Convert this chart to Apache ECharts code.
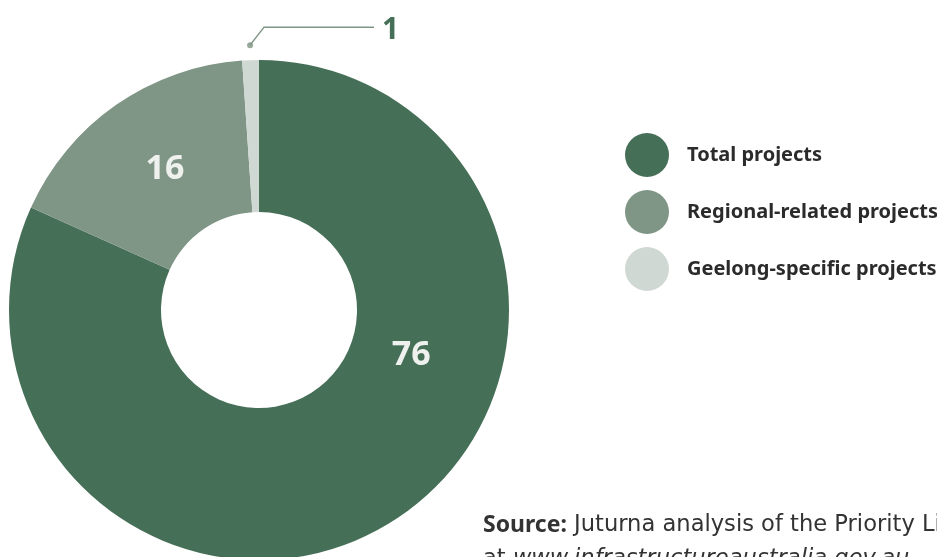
<!DOCTYPE html>
<html><head><meta charset="utf-8">
<script src="https://cdn.jsdelivr.net/npm/echarts@6/dist/echarts.min.js"></script>
<style>html,body{margin:0;padding:0;background:#fff}#c{width:937px;height:557px}</style>
</head><body><div id="c"></div>
<script>
const categories = ['Total projects', 'Regional-related projects', 'Geelong-specific projects'];
const values = [76, 16, 1];
const colors = ['#466f57', '#7f9585', '#d0d8d4'];
const sourceLine1 = 'Juturna analysis of the Priority List, available';
const sourceLine2 = 'www.infrastructureaustralia.gov.au';

const total = values.reduce((a, b) => a + b, 0);
const F = "'Noto Sans', sans-serif";
const FR = "'DejaVu Sans', sans-serif";
const chart = echarts.init(document.getElementById('c'));

const mainData = categories.map((n, i) => ({
  name: n, value: values[i], itemStyle: { color: colors[i] },
  label: { show: i < 2 }
}));
const helperData = categories.map((n, i) => ({
  name: n, value: values[i],
  label: { show: i === 2 }, labelLine: { show: i === 2 }
}));

const srcRich = {
  b: { fontFamily: F, fontSize: 23, fontWeight: 'bold', fill: '#333' },
  r: { fontFamily: FR, fontSize: 22.6, fill: '#333' },
  i: { fontFamily: FR, fontSize: 22.6, fontStyle: 'italic', fill: '#333' }
};

chart.setOption({
  animation: false,
  graphic: [{
    type: 'text', x: 483, y: 525, silent: true,
    style: { text: '{b|Source:}{r| ' + sourceLine1 + '}', rich: srcRich, verticalAlign: 'middle', align: 'left',
      fontFamily: FR, fontSize: 22.6, fill: '#333' }
  }, {
    type: 'text', x: 483, y: 559, silent: true,
    style: { text: '{r|at }{i|' + sourceLine2 + '}', rich: srcRich, verticalAlign: 'middle', align: 'left',
      fontFamily: FR, fontSize: 22.6, fill: '#333' }
  }],
  legend: {
    orient: 'vertical', left: 620, top: 128, icon: 'circle',
    itemWidth: 44, itemHeight: 44, itemGap: 13,
    data: categories,
    textStyle: { fontFamily: F, fontSize: 20, fontWeight: 'bold', color: '#2b2b2b', padding: [0, 0, 0, 13] }
  },
  polar: { center: [259, 310], radius: 265 },
  angleAxis: { type: 'value', min: 0, max: total, startAngle: 90, clockwise: true, show: false },
  radiusAxis: { type: 'value', min: 0, max: 265, show: false },
  series: [
    {
      type: 'pie', center: [259, 310], radius: [98, 250], startAngle: 90, clockwise: true,
      avoidLabelOverlap: false, emphasis: { disabled: true }, silent: true,
      label: { position: 'inside', formatter: '{c}', fontFamily: F, fontSize: 34, fontWeight: 'bold', color: '#eef1ee' },
      labelLine: { show: false },
      labelLayout: function (p) {
        if (p.dataIndex === 0) return { dx: 56, dy: -103 };
        if (p.dataIndex === 1) return { dx: 7, dy: 5 };
      },
      data: mainData
    },
    {
      type: 'pie', center: [259, 310], radius: [264, 265], startAngle: 90, clockwise: true,
      avoidLabelOverlap: false, emphasis: { disabled: true }, silent: true,
      itemStyle: { color: 'rgba(0,0,0,0)' },
      label: { position: 'outside', formatter: '{c}', fontFamily: F, fontSize: 30, fontWeight: 'bold', color: '#466f57' },
      labelLine: { length: 20, length2: 110, lineStyle: { color: '#7f9585', width: 1.5 } },
      labelLayout: function (p) {
        if (p.dataIndex !== 2 || !p.labelLinePoints) return;
        const p0 = p.labelLinePoints[0];
        return {
          x: p0[0] + 132, y: p0[1] - 15, align: 'left', verticalAlign: 'middle',
          labelLinePoints: [p0, [p0[0] + 14, p0[1] - 18], [p0[0] + 124, p0[1] - 18]]
        };
      },
      data: helperData
    },
    {
      type: 'scatter', coordinateSystem: 'polar', silent: true,
      symbol: 'circle', symbolSize: 6, itemStyle: { color: '#7f9585' },
      data: [[265, total - values[2] / 2]]
    }
  ]
});
</script></body></html>
